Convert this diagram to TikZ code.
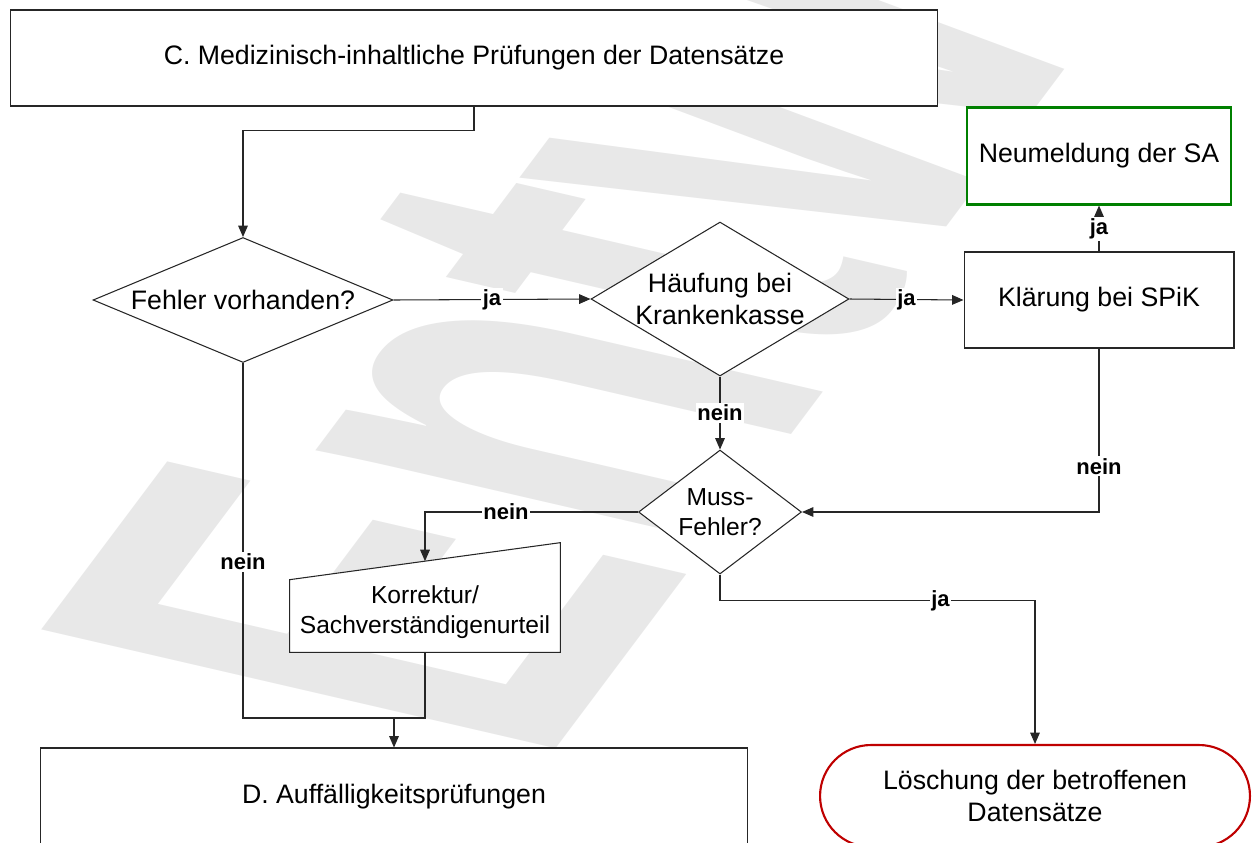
\documentclass[tikz,border=0pt]{standalone}
\usepackage{fontspec}
\setmainfont{Liberation Sans}
\usepackage{tikz}
\usetikzlibrary{arrows.meta}
\usetikzlibrary{positioning,calc}
\usetikzlibrary{shapes.geometric,shapes.misc}
\tikzset{
  every node/.style={font=\fontsize{15.2}{18}\selectfont}
}
\begin{document}
\begin{tikzpicture}[x=0.02cm,y=-0.02cm]
  \tikzset{
    block/.style={
      draw=black!85,
      fill=white,
      rectangle,
      line width=0.6pt,
      inner sep=0pt,
      align=center
    },
    decision/.style={
      draw=black!85,
      fill=white,
      diamond,
      line width=0.6pt,
      inner sep=-1.5pt,
      align=center
    },
    line/.style={
      draw=black!85,
      line width=0.6pt
    },
    arr/.style={
      line,
      -{Triangle[length=6.5pt, width=5.5pt]}
    },
    lbl/.style={
      fill=white,
      inner sep=1pt,
      font=\fontsize{12.5}{14}\selectfont\bfseries
    },
    small/.style={
      font=\fontsize{14}{17}\selectfont
    }
  }
  \useasboundingbox (0,0) rectangle (1253,842);
  \clip (0,0) rectangle (1253,842);

  % Watermark
  \begin{scope}[cm={1.326,1.768,-4.256,0.983,(540,770)}]
    \node[transform shape, anchor=base west, inner sep=0pt, text=black!9, font=\fontsize{100}{100}\selectfont\bfseries] (draft) at (0,0) {Entwurf};
  \end{scope}

  % Blocks
  \node[block, minimum width=18.56cm, minimum height=1.92cm] (pruefC) at (474,58) {C. Medizinisch-inhaltliche Prüfungen der Datensätze};
  \node[decision, minimum width=6cm, minimum height=2.5cm, aspect=2.4] (fehler) at (243,300) {Fehler vorhanden?};
  \node[decision, minimum width=5.16cm, minimum height=3.08cm, aspect=1.675] (haeufung) at (720,299) {Häufung bei\\Krankenkasse};
  \node[block, minimum width=5.4cm, minimum height=1.92cm] (spik) at (1099,300) {Klärung bei SPiK};
  \node[block, draw=green!50!black, line width=1.2pt, minimum width=5.28cm, minimum height=1.94cm] (neu) at (1099,156) {Neumeldung der SA};
  \node[decision, small, minimum width=3.26cm, minimum height=2.48cm, aspect=1.31] (muss) at (720,512) {Muss-\\Fehler?};
  \node[block, minimum width=14.16cm, minimum height=1.96cm] (pruefD) at (394,797) {D. Auffälligkeitsprüfungen};
  \node[rounded rectangle, draw=red!75!black, fill=white, line width=1.2pt, minimum width=8.6cm, minimum height=2.04cm, inner sep=0pt, align=center] (loesch) at (1035,796) {Löschung der betroffenen\\Datensätze};

  % Manual input
  \node[minimum width=5.4cm, minimum height=1.6cm, inner sep=0pt] (korr) at (425,612) {};
  \coordinate (kTL) at ($(korr.north west)+(0,8)$);
  \coordinate (kTR) at ($(korr.north east)+(0,-29)$);
  \coordinate (korrin) at ($(kTL)!0.5!(kTR)$);
  \draw[line, fill=white] (korr.south west) -- (korr.south east) -- (kTR) -- (kTL) -- cycle;
  \node[small, align=center] (korrtext) at (korr) {Korrektur/\\Sachverständigenurteil};

  % Edges
  \coordinate (join) at (394,718);
  \draw[arr] (pruefC.south) -- ++(0,24) -| (fehler.north);
  \draw[arr] (fehler.east) -- (haeufung.west) node[midway, lbl] {ja};
  \draw[arr] (haeufung.east) -- (spik.west) node[midway, lbl] {ja};
  \draw[arr] (spik.north) -- (neu.south) node[midway, lbl] {ja};
  \draw[arr] (haeufung.south) -- (muss.north) node[midway, lbl] {nein};
  \draw[arr] (spik.south) |- (muss.east) node[pos=0.36, lbl] {nein};
  \draw[arr] (muss.west) -| (korrin) node[pos=0.31, lbl] {nein};
  \draw[arr] (muss.south) -- ++(0,26) -| (loesch.north) node[pos=0.35, lbl] {ja};
  \draw[line] (fehler.south) |- (join) node[pos=0.28, lbl] {nein};
  \draw[line] (korr.south) |- (join);
  \draw[arr] (join) -- (pruefD.north);
\end{tikzpicture}
\end{document}
